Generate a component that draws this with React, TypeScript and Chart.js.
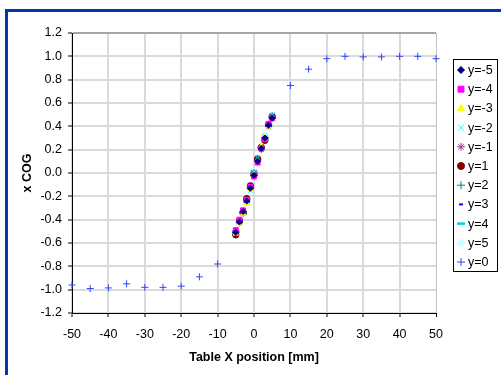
import React, { useEffect, useRef } from 'react';
import { Chart, registerables } from 'chart.js';
import { drawPoint } from 'chart.js/helpers';

Chart.register(...registerables);

// ---- data ----
const clusterX = [-5, -4, -3, -2, -1, 0, 1, 2, 3, 4, 5];
const yM5 = [-0.51, -0.42, -0.33, -0.24, -0.13, -0.02, 0.10, 0.21, 0.30, 0.41, 0.47];
const yM4 = [-0.49, -0.40, -0.32, -0.23, -0.12, -0.03, 0.09, 0.21, 0.29, 0.42, 0.47];
const yM3 = [-0.52, -0.44, -0.35, -0.26, -0.14, -0.01, 0.08, 0.23, 0.31, 0.40, 0.46];
const yM2 = [-0.50, -0.43, -0.34, -0.24, -0.15, 0.01, 0.13, 0.21, 0.32, 0.39, 0.50];
const yM1 = [-0.51, -0.42, -0.33, -0.25, -0.13, 0.00, 0.11, 0.20, 0.30, 0.42, 0.49];
const yP1 = [-0.53, -0.41, -0.34, -0.22, -0.11, -0.02, 0.12, 0.22, 0.28, 0.41, 0.48];
const yP2 = [-0.50, -0.42, -0.34, -0.23, -0.13, 0.00, 0.11, 0.22, 0.30, 0.41, 0.48];
const yP3 = [-0.52, -0.43, -0.33, -0.24, -0.14, -0.01, 0.10, 0.23, 0.31, 0.40, 0.47];
const yP4 = [-0.50, -0.42, -0.35, -0.23, -0.12, 0.01, 0.12, 0.22, 0.30, 0.42, 0.49];
const yP5 = [-0.49, -0.43, -0.32, -0.25, -0.12, 0.02, 0.13, 0.20, 0.33, 0.38, 0.50];

const zeroX = [-50, -45, -40, -35, -30, -25, -20, -15, -10, -5, -4, -3, -2, -1, 0, 1, 2, 3, 4, 5, 10, 15, 20, 25, 30, 35, 40, 45, 50];
const zeroY = [-0.96, -0.99, -0.985, -0.95, -0.98, -0.98, -0.97, -0.89, -0.78, -0.50, -0.43, -0.34, -0.23, -0.13, -0.01, 0.11, 0.22, 0.30, 0.41, 0.47, 0.75, 0.89, 0.98, 1.0, 0.995, 0.995, 1.0, 1.0, 0.98];

const seriesLabels = ['y=-5', 'y=-4', 'y=-3', 'y=-2', 'y=-1', 'y=1', 'y=2', 'y=3', 'y=4', 'y=5', 'y=0'];
const seriesX = [clusterX, clusterX, clusterX, clusterX, clusterX, clusterX, clusterX, clusterX, clusterX, clusterX, zeroX];
const seriesY = [yM5, yM4, yM3, yM2, yM1, yP1, yP2, yP3, yP4, yP5, zeroY];

const xTitle = 'Table X position [mm]';
const yTitle = 'x COG';

// ---- styles ----
const styles = [
  { ps: 'rectRot', color: '#000080', r: 3, lr: 3.5, bw: 1 },
  { ps: 'rect', color: '#ff00ff', r: 3.5, lr: 4.2, bw: 1 },
  { ps: 'triangle', color: '#ffff00', r: 3, lr: 4, bw: 1 },
  { ps: 'crossRot', color: '#00ffff', r: 3.5, lr: 4, bw: 1 },
  { ps: 'star', color: '#993399', r: 3.5, lr: 4, bw: 1 },
  { ps: 'circle', color: '#800000', r: 3.2, lr: 3.5, bw: 1 },
  { ps: 'cross', color: '#008080', r: 3.5, lr: 4, bw: 1 },
  { ps: 'line', color: '#0000ff', r: 1.5, lr: 2, bw: 2 },
  { ps: 'line', color: '#00ccff', r: 3.5, lr: 4, bw: 2.5 },
  { ps: 'rectRot', color: '#ccffff', r: 3, lr: 4, bw: 1 },
  { ps: 'cross', color: '#3344ff', r: 3.5, lr: 4, bw: 1 },
];

const FONT = '"Liberation Sans", Arial, sans-serif';

const framePlugin = {
  id: 'frame',
  beforeDraw(chart: any) {
    const ctx = chart.ctx;
    ctx.save();
    ctx.fillStyle = '#ffffff';
    ctx.fillRect(0, 0, chart.width, chart.height);
    ctx.fillStyle = '#0038b0';
    ctx.fillRect(5, 9, chart.width - 5, 3);
    ctx.fillRect(5, 9, 3, chart.height - 9);
    ctx.restore();
  },
};

const legendPlugin = {
  id: 'boxLegend',
  afterDraw(chart: any) {
    const ctx = chart.ctx;
    const ca = chart.chartArea;
    const left = ca.right + 17;
    const top = 59;
    const w = 44;
    const h = 212;
    ctx.save();
    ctx.strokeStyle = '#000';
    ctx.lineWidth = 1;
    ctx.strokeRect(left + 0.5, top + 0.5, w, h);
    ctx.font = '12.5px ' + FONT;
    ctx.textBaseline = 'middle';
    ctx.textAlign = 'left';
    chart.data.datasets.forEach((ds: any, i: number) => {
      const st = styles[i];
      const y = top + 11 + i * 19.2;
      ctx.fillStyle = st.color;
      ctx.strokeStyle = st.color;
      ctx.lineWidth = st.bw;
      drawPoint(ctx, { pointStyle: st.ps, radius: st.lr, borderWidth: st.bw, rotation: 0 } as any, left + 8, y);
      ctx.fillStyle = '#000';
      ctx.fillText(ds.label, left + 15, y + 0.5);
    });
    ctx.restore();
  },
};

export default function App() {
  const ref = useRef<HTMLCanvasElement | null>(null);
  useEffect(() => {
    if (!ref.current) return;
    const datasets = seriesLabels.map((label, i) => ({
      label,
      data: seriesX[i].map((x, j) => ({ x, y: seriesY[i][j] })),
      showLine: false,
      pointStyle: styles[i].ps as any,
      pointRadius: styles[i].r,
      pointHoverRadius: styles[i].r,
      pointBorderWidth: styles[i].bw,
      backgroundColor: styles[i].color,
      borderColor: styles[i].color,
      clip: false as any,
    }));
    const chart = new Chart(ref.current, {
      type: 'scatter',
      data: { datasets },
      plugins: [framePlugin, legendPlugin],
      options: {
        animation: false,
        responsive: false,
        devicePixelRatio: 1,
        layout: { padding: { left: 0, top: 33, right: 65, bottom: 0 } },
        plugins: { legend: { display: false }, tooltip: { enabled: false } },
        scales: {
          x: {
            type: 'linear',
            min: -50,
            max: 50,
            afterFit: (s: any) => { s.height = 62; },
            ticks: { stepSize: 10, padding: 10, color: '#000', font: { family: FONT, size: 12.5 } },
            grid: {
              color: (c: any) => (c.tick && c.tick.value === 50 ? '#c4c4c4' : '#dadada'),
              lineWidth: (c: any) => (c.tick && c.tick.value === 50 ? 1 : 2),
              tickColor: '#000',
              tickLength: 4,
              tickWidth: 1,
            },
            border: { color: '#000', width: 1 },
            title: { display: true, text: xTitle, color: '#000', font: { family: FONT, size: 12.5, weight: 'bold' }, padding: { top: 0, bottom: 10 } },
          },
          y: {
            type: 'linear',
            min: -1.2,
            max: 1.2,
            afterFit: (s: any) => { s.width = 72; },
            ticks: {
              stepSize: 0.2,
              padding: 6,
              color: '#000',
              font: { family: FONT, size: 12.5 },
              callback: (v: any) => Number(v).toFixed(1),
            },
            grid: {
              color: (c: any) => (c.tick && Math.abs(c.tick.value - 1.2) < 1e-6 ? '#a6a6a6' : '#dadada'),
              lineWidth: 2,
              tickColor: '#000',
              tickLength: 4,
              tickWidth: 1,
            },
            border: { color: '#000', width: 1 },
            title: { display: true, text: yTitle, color: '#000', font: { family: FONT, size: 12.5, weight: 'bold' }, padding: { top: 20, bottom: 0 } },
          },
        },
      },
    });
    return () => chart.destroy();
  }, []);
  return (
    <div style={{ position: 'fixed', left: 0, top: 0, width: 501, height: 375 }}>
      <canvas ref={ref} width={501} height={375} style={{ display: 'block', width: 501, height: 375 }} />
    </div>
  );
}
